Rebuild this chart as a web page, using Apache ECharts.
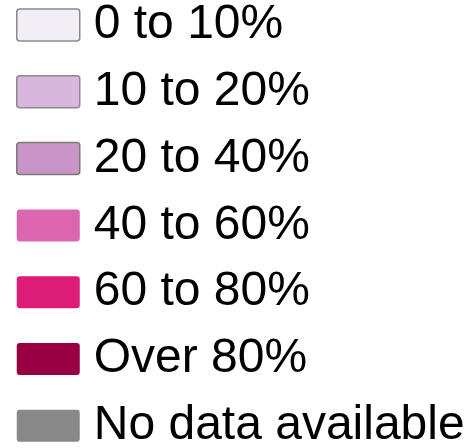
<!DOCTYPE html>
<html><head><meta charset="utf-8">
<script src="https://cdn.jsdelivr.net/npm/echarts@6/dist/echarts.min.js"></script>
<style>html,body{margin:0;padding:0;background:#fff}#c{width:468px;height:448px}</style>
</head><body><div id="c"></div>
<script>
const categories = ['0 to 10%','10 to 20%','20 to 40%','40 to 60%','60 to 80%','Over 80%','No data available'];
const colors = ['#f1eef6','#d8b6dd','#c994c7','#dc65b0','#dd1c77','#980043','#888888'];
const borders = ['#8a8a8a','#8a8a8a','#7a7a7a',null,null,null,null];

const chart = echarts.init(document.getElementById('c'), null, {renderer:'canvas'});
chart.setOption({
  animation:false,
  grid:{show:false,left:0,right:0,top:0,bottom:0},
  xAxis:{show:false,type:'category',data:[]},
  yAxis:{show:false,type:'value'},
  legend:{
    orient:'vertical', left:16, top:1, padding:0, height:520,
    itemWidth:63, itemHeight:32, itemGap:18.8,
    icon:'path://M3,0 H60 A3,3 0 0 1 63,3 V29 A3,3 0 0 1 60,32 H3 A3,3 0 0 1 0,29 V3 A3,3 0 0 1 3,0 Z',
    selectedMode:false,
    textStyle:{fontFamily:'Liberation Sans, Arial, sans-serif', fontSize:48, color:'#000', padding:[0,0,0,9]},
    data: categories.map((c,i)=>({name:c, itemStyle: borders[i] ? {borderColor:borders[i], borderWidth:1.5} : {borderWidth:0}}))
  },
  series: categories.map((c,i)=>({type:'bar', name:c, data:[], itemStyle:{color:colors[i]}}))
});
</script></body></html>
